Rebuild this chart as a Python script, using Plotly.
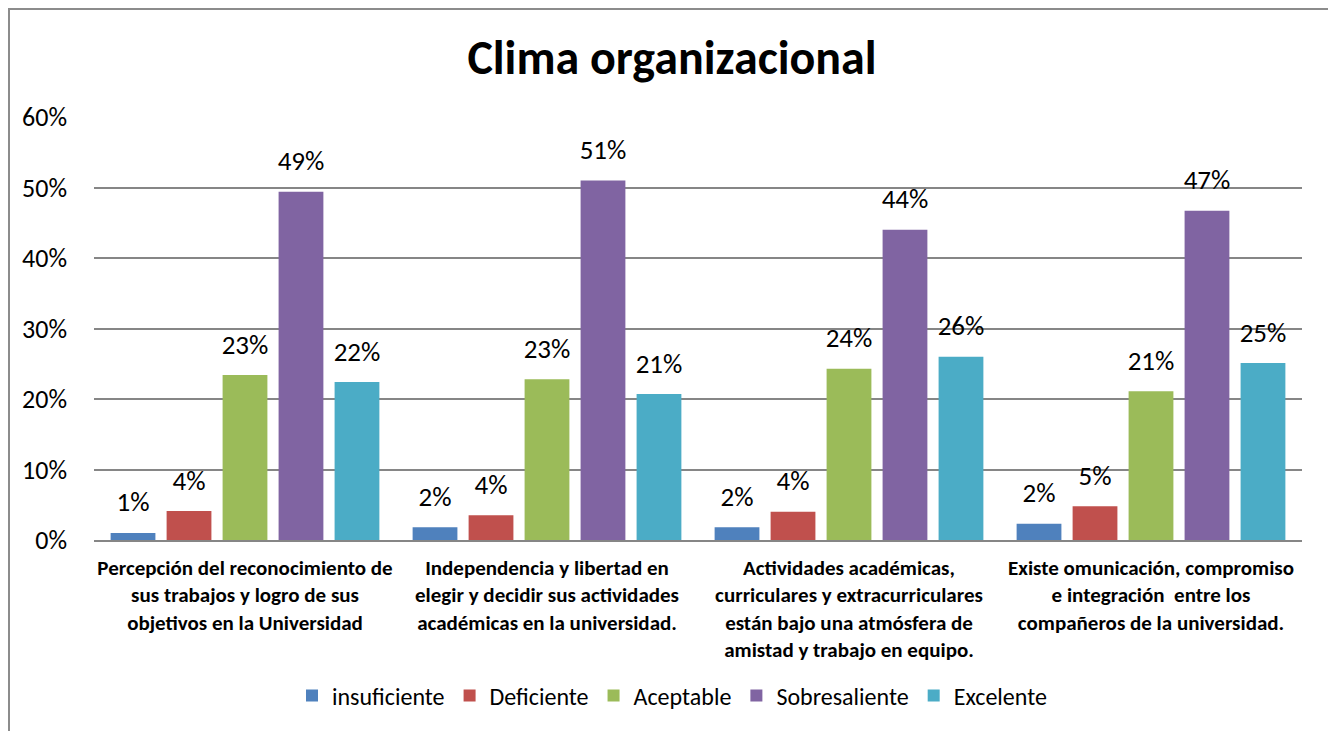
import plotly.graph_objects as go

categories = [
    "Percepción del reconocimiento de<br>sus trabajos y logro de sus<br>objetivos en la Universidad",
    "Independencia y libertad en<br>elegir y decidir sus actividades<br>académicas en la universidad.",
    "Actividades académicas,<br>curriculares y extracurriculares<br>están bajo una atmósfera de<br>amistad y trabajo en equipo.",
    "Existe omunicación, compromiso<br>e integración  entre los<br>compañeros de la universidad.",
]

series_names = ["insuficiente", "Deficiente", "Aceptable", "Sobresaliente", "Excelente"]
insuficiente = [0.010, 0.018, 0.018, 0.023]
deficiente = [0.041, 0.035, 0.040, 0.048]
aceptable = [0.234, 0.228, 0.243, 0.211]
sobresaliente = [0.494, 0.510, 0.440, 0.467]
excelente = [0.224, 0.207, 0.260, 0.251]

colors = ["#4F81BD", "#C0504D", "#9BBB59", "#8064A2", "#4BACC6"]
FONT = "Carlito, Lato, Liberation Sans, sans-serif"

# figure sits at (8, 8) in the page because of the body margin
W, H = 1328, 723
L, R, T, B = 86, 34, 109, 191
PW, PH = W - L - R, H - T - B

fig = go.Figure()
for name, vals, color in zip(
    series_names,
    [insuficiente, deficiente, aceptable, sobresaliente, excelente],
    colors,
):
    fig.add_trace(
        go.Bar(
            x=categories,
            y=vals,
            name=name,
            marker=dict(color=color, line=dict(width=0)),
            hoverinfo="skip",
        )
    )

# value labels, grouped like the bars so they sit above each one
for name, vals in zip(
    series_names,
    [insuficiente, deficiente, aceptable, sobresaliente, excelente],
):
    fig.add_trace(
        go.Scatter(
            x=categories,
            y=vals,
            mode="markers+text",
            marker=dict(size=22, opacity=0),
            texttemplate="%{y:.0%}",
            textposition="top center",
            textfont=dict(family=FONT, size=27, color="#000000"),
            showlegend=False,
            cliponaxis=False,
            hoverinfo="skip",
        )
    )

fig.update_layout(
    width=W,
    height=H,
    paper_bgcolor="white",
    plot_bgcolor="white",
    font=dict(family=FONT, color="#000000"),
    title=dict(
        text="<b>Clima organizacional</b>",
        x=0.5,
        xanchor="center",
        y=1 - 49 / H,
        yanchor="middle",
        font=dict(family=FONT, size=48, color="#000000"),
    ),
    margin=dict(l=L, r=R, t=T, b=B),
    barmode="group",
    bargap=0.073,
    bargroupgap=0.2,
    scattermode="group",
    scattergap=0.073,
    showlegend=True,
    legend=dict(
        orientation="h",
        x=(W / 2 - L) / PW,
        xanchor="center",
        y=-(688 - (H - B)) / PH,
        yanchor="middle",
        font=dict(family=FONT, size=24, color="#000000"),
    ),
    shapes=[
        dict(
            type="rect",
            xref="paper",
            yref="paper",
            x0=-(L - 1) / PW,
            x1=(1322 - L) / PW,
            y0=-(H + 20 - (H - B)) / PH,
            y1=(H - B - 1) / PH,
            line=dict(color="#8C8C8C", width=2),
            fillcolor="rgba(0,0,0,0)",
            layer="below",
        )
    ],
)

fig.update_yaxes(
    range=[0, 0.6],
    dtick=0.1,
    tickformat=".0%",
    showgrid=True,
    gridcolor="#868686",
    gridwidth=1.5,
    zeroline=False,
    showline=False,
    ticks="",
    ticklabelstandoff=26,
    tickfont=dict(family=FONT, size=26, color="#000000"),
)
fig.update_xaxes(
    showgrid=False,
    showline=True,
    linecolor="#868686",
    linewidth=1.5,
    ticks="",
    tickangle=0,
    ticklabelstandoff=8,
    tickfont=dict(family=FONT, size=21, color="#000000", weight="bold"),
)

fig.write_html("out.html")
